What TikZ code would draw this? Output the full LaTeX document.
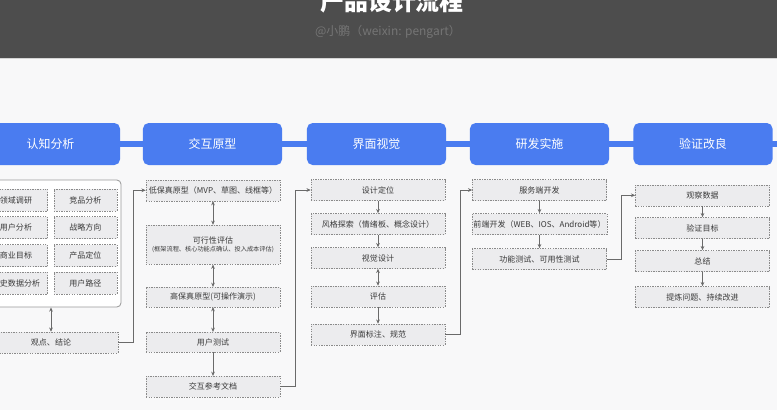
\documentclass[tikz,border=0pt]{standalone}
\usepackage{fontspec}
\newfontfamily\cjk{Noto Sans CJK SC}
\usepackage{tikz}
\usetikzlibrary{arrows.meta}
\definecolor{pagegray}{HTML}{F8F8F9}
\definecolor{bandgray}{HTML}{4D4D4D}
\definecolor{bandline}{HTML}{D4D4D4}
\definecolor{subgray}{HTML}{757575}
\definecolor{stageblue}{HTML}{4A7CF0}
\definecolor{taskgray}{HTML}{ECECEE}
\definecolor{dashgray}{HTML}{8A8A8A}
\definecolor{panelgray}{HTML}{9A9A9A}
\definecolor{linegray}{HTML}{6A6A6A}
\definecolor{textgray}{HTML}{3A3A3A}

\begin{document}
\begin{tikzpicture}[x=0.025cm, y=-0.025cm,
    >={Stealth[length=3pt, width=2.6pt]},
    stage/.style={rectangle, rounded corners=4pt, fill=stageblue, text=white,
                  minimum width=3.475cm, minimum height=1.05cm,
                  font=\cjk\fontsize{8.5}{10}\selectfont},
    task/.style={rectangle, draw=dashgray, dash pattern=on 1pt off 0.8pt,
                 fill=taskgray, text=textgray, minimum width=3.35cm,
                 minimum height=0.525cm, inner sep=1pt, align=center,
                 font=\cjk\fontsize{5.7}{7}\selectfont},
    cell/.style={task, minimum width=1.575cm, minimum height=0.55cm},
    panel/.style={rectangle, rounded corners=3pt, draw=panelgray, fill=white,
                  line width=0.6pt},
    link/.style={->, draw=linegray, line width=0.6pt},
    twoway/.style={<->, draw=linegray, line width=0.6pt},
]
% Canvas and header band
\useasboundingbox (0,0) rectangle (777,410);
\clip (0,0) rectangle (777,410);
\fill[pagegray] (0,0) rectangle (777,410);
\fill[bandgray] (0,0) rectangle (777,58.5);
\draw[bandline] (0,58.5) -- (777,58.5);
\node[anchor=base, text=white, font=\cjk\bfseries\fontsize{17}{20}\selectfont] (title) at (392,10.5) {产品设计流程};
\node[text=subgray, font=\cjk\fontsize{8.5}{10}\selectfont] (author) at (388,32) {@小鹏（weixin: pengart）};

% Stage bar
\draw[stageblue, line width=4.3pt] (0,144) -- (777,144);
\foreach \x/\t [count=\i] in {50.5/认知分析, 212.5/交互原型, 376.5/界面视觉, 539.5/研发实施, 703/验证改良} {
    \node[stage] (s\i) at (\x,144) {\t};
}

% Cognitive analysis
\node[panel, minimum width=3.5cm, minimum height=3.175cm] (panel) at (51,243.5) {};
\foreach \t/\u/\y [count=\i] in {领域调研/竞品分析/200, 用户分析/战略方向/227.5, 商业目标/产品定位/255.5, 历史数据分析/用户路径/283} {
    \node[cell] (a\i) at (16,\y) {\t};
    \node[cell] (b\i) at (85.3,\y) {\u};
}
\node[task] (concl) at (51,342.5) {观点、结论};

% Interaction prototype
\node[task] (lofi) at (213,190.3) {低保真原型（MVP、草图、线框等）};
\node[task, minimum height=0.98cm] (feas) at (213,244.7) {可行性评估\\[-1pt]{\fontsize{4.4}{5}\selectfont (框架流程、核心功能点确认、投入成本评估)}};
\node[task, minimum height=0.49cm] (hifi) at (213,297) {高保真原型(可操作演示)};
\node[task, minimum height=0.49cm] (utest) at (213,342) {用户测试};
\node[task] (idoc) at (213,386.7) {交互参考文档};

% Visual design
\node[task] (pos) at (378,190) {设计定位};
\node[task] (style) at (378,224) {风格探索（情绪板、概念设计）};
\node[task] (vis) at (378,258) {视觉设计};
\node[task] (eval) at (378,296.5) {评估};
\node[task] (spec) at (378,334.5) {界面标注、规范};

% Development
\node[task] (srv) at (539.5,190) {服务端开发};
\node[task] (fe) at (539.5,224) {前端开发（WEB、IOS、Android等）};
\node[task] (ftest) at (539.5,259) {功能测试、可用性测试};

% Verification
\node[task] (obs) at (702.5,195.3) {观察数据};
\node[task] (goal) at (702.5,228) {验证目标};
\node[task] (sum) at (702.5,261) {总结};
\node[task] (impr) at (702.5,297) {提炼问题、持续改进};

% Arrows inside columns
\draw[twoway] (panel.south) -- (concl.north);
\draw[twoway] (lofi) -- (feas);
\draw[twoway] (feas) -- (hifi);
\draw[twoway] (hifi) -- (utest);
\draw[link] (utest) -- (idoc);
\draw[link] (pos) -- (style);
\draw[link] (style) -- (vis);
\draw[twoway] (vis) -- (eval);
\draw[link] (eval) -- (spec);
\draw[link] (srv) -- (fe);
\draw[link] (fe) -- (ftest);
\draw[link] (obs) -- (goal);
\draw[link] (goal) -- (sum);
\draw[link] (sum) -- (impr);

% Links between columns
\draw[link] (concl.east) -- ++(15,0) |- (lofi.west);
\draw[link] (idoc.east) -- ++(15,0) |- (pos.west);
\draw[link] (spec.east) -- ++(15,0) |- (srv.west);
\draw[link] (ftest.east) -- ++(15,0) |- (obs.west);
\end{tikzpicture}
\end{document}
